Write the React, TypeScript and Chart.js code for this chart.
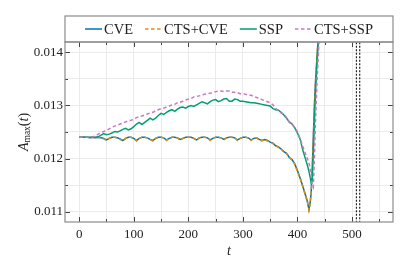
import { useEffect, useRef } from "react";
import { Chart, registerables } from "chart.js";

Chart.register(...registerables);

// time samples
const T = [
  0, 5, 10, 15, 20, 25, 30, 35, 40, 45, 50, 55, 60, 65, 70, 75, 80, 85, 90, 95,
  100, 105, 110, 115, 120, 125, 130, 135, 140, 145, 150, 155, 160, 165, 170, 175, 180, 185, 190, 195,
  200, 205, 210, 215, 220, 225, 230, 235, 240, 245, 250, 255, 260, 265, 270, 275, 280, 285, 290, 295,
  300, 305, 310, 315, 320, 325, 330, 335, 340, 345, 350, 355, 360, 365, 370, 375, 380, 385, 390, 395,
  400, 405, 410, 415, 418, 421, 423, 425, 427, 429, 431, 433, 436, 440, 444,
];

const CVE = [
  0.01240, 0.01240, 0.01240, 0.01240, 0.01239, 0.01240, 0.01239, 0.01240, 0.01239, 0.01238,
  0.01235, 0.01238, 0.01240, 0.01240, 0.01239, 0.01237, 0.01234, 0.01238, 0.01240, 0.01240,
  0.01238, 0.01234, 0.01238, 0.01240, 0.01240, 0.01239, 0.01236, 0.01234, 0.01238, 0.01240,
  0.01240, 0.01239, 0.01235, 0.01238, 0.01240, 0.01240, 0.01239, 0.01236, 0.01238, 0.01240,
  0.01240, 0.01240, 0.01238, 0.01235, 0.01239, 0.01240, 0.01240, 0.01239, 0.01235, 0.01238,
  0.01240, 0.01240, 0.01239, 0.01236, 0.01239, 0.01240, 0.01240, 0.01239, 0.01235, 0.01238,
  0.01240, 0.01240, 0.01239, 0.01235, 0.01238, 0.01239, 0.01236, 0.01234, 0.01236, 0.01234,
  0.01231, 0.01229, 0.01224, 0.01222, 0.01218, 0.01213, 0.01210, 0.01202, 0.01198, 0.01190,
  0.01177, 0.01163, 0.01147, 0.01130, 0.01120, 0.01104, 0.01115, 0.01135, 0.01180, 0.01240,
  0.01300, 0.01345, 0.01395, 0.01460, 0.01530,
];

const CTS_CVE = [
  0.01240, 0.01240, 0.01240, 0.01240, 0.01239, 0.01240, 0.01239, 0.01240, 0.01239, 0.01237,
  0.01234, 0.01238, 0.01240, 0.01240, 0.01239, 0.01236, 0.01233, 0.01238, 0.01240, 0.01240,
  0.01238, 0.01233, 0.01238, 0.01240, 0.01240, 0.01239, 0.01236, 0.01233, 0.01238, 0.01240,
  0.01240, 0.01239, 0.01234, 0.01238, 0.01240, 0.01240, 0.01239, 0.01235, 0.01238, 0.01240,
  0.01240, 0.01240, 0.01238, 0.01234, 0.01239, 0.01240, 0.01240, 0.01239, 0.01234, 0.01238,
  0.01240, 0.01240, 0.01239, 0.01235, 0.01239, 0.01240, 0.01240, 0.01239, 0.01234, 0.01238,
  0.01240, 0.01240, 0.01239, 0.01234, 0.01238, 0.01239, 0.01235, 0.01233, 0.01236, 0.01233,
  0.01231, 0.01228, 0.01224, 0.01221, 0.01218, 0.01212, 0.01209, 0.01202, 0.01197, 0.01189,
  0.01176, 0.01162, 0.01146, 0.01129, 0.01119, 0.01103, 0.01114, 0.01134, 0.01178, 0.01238,
  0.01298, 0.01344, 0.01394, 0.01460, 0.01530,
];

const SSP = [
  0.01240, 0.01240, 0.01240, 0.01240, 0.01240, 0.01241, 0.01240, 0.01241, 0.01244, 0.01247,
  0.01245, 0.01246, 0.01248, 0.01251, 0.01250, 0.01252, 0.01255, 0.01257, 0.01254, 0.01256,
  0.01260, 0.01265, 0.01268, 0.01264, 0.01268, 0.01272, 0.01276, 0.01273, 0.01276, 0.01281,
  0.01285, 0.01283, 0.01287, 0.01290, 0.01292, 0.01289, 0.01293, 0.01296, 0.01297, 0.01295,
  0.01298, 0.01300, 0.01298, 0.01301, 0.01304, 0.01307, 0.01305, 0.01303, 0.01307, 0.01310,
  0.01311, 0.01307, 0.01309, 0.01312, 0.01313, 0.01308, 0.01308, 0.01312, 0.01311, 0.01308,
  0.01308, 0.01307, 0.01306, 0.01305, 0.01305, 0.01304, 0.01303, 0.01302, 0.01301, 0.01300,
  0.01299, 0.01294, 0.01292, 0.01291, 0.01287, 0.01282, 0.01276, 0.01269, 0.01265, 0.01258,
  0.01248, 0.01236, 0.01215, 0.01198, 0.01188, 0.01176, 0.01166, 0.01155, 0.01158, 0.01210,
  0.01270, 0.01325, 0.01385, 0.01450, 0.01525,
];

const CTS_SSP = [
  0.01240, 0.01240, 0.01240, 0.01240, 0.01240, 0.01241, 0.01243, 0.01246, 0.01249, 0.01251,
  0.01253, 0.01256, 0.01259, 0.01261, 0.01263, 0.01265, 0.01267, 0.01269, 0.01271, 0.01272,
  0.01274, 0.01277, 0.01279, 0.01280, 0.01282, 0.01284, 0.01286, 0.01287, 0.01290, 0.01292,
  0.01294, 0.01295, 0.01297, 0.01299, 0.01301, 0.01302, 0.01305, 0.01306, 0.01308, 0.01310,
  0.01312, 0.01313, 0.01316, 0.01317, 0.01318, 0.01320, 0.01321, 0.01322, 0.01323, 0.01324,
  0.01326, 0.01327, 0.01327, 0.01326, 0.01327, 0.01327, 0.01325, 0.01325, 0.01324, 0.01322,
  0.01322, 0.01321, 0.01319, 0.01319, 0.01317, 0.01315, 0.01313, 0.01311, 0.01309, 0.01307,
  0.01305, 0.01301, 0.01295, 0.01289, 0.01286, 0.01284, 0.01277, 0.01268, 0.01264, 0.01259,
  0.01250, 0.01237, 0.01222, 0.01208, 0.01200, 0.01192, 0.01182, 0.01168, 0.01150, 0.01146,
  0.01200, 0.01270, 0.01350, 0.01430, 0.01510,
];

const SERIES_LABELS = ["CVE", "CTS+CVE", "SSP", "CTS+SSP"];
const SERIES_COLORS = ["#0173B2", "#DE8F05", "#029E73", "#CC78BC"];
const SERIES_DASHED = [false, true, false, true];

const X_MAJOR = [0, 100, 200, 300, 400, 500];
const X_MINOR = [50, 150, 250, 350, 450, 550];
const Y_MAJOR = [0.011, 0.012, 0.013, 0.014];
const Y_MINOR = [0.0115, 0.0125, 0.0135];
const X_RANGE = [-26, 575];
const Y_RANGE = [0.010806, 0.014194];
const V_LINES = [508, 514];

const SERIF = '"Liberation Serif", "Times New Roman", serif';

const isMajorY = (v: number) => Y_MAJOR.some((m) => Math.abs(m - v) < 1e-9);

const decorPlugin = {
  id: "decor",
  afterDraw(chart: any) {
    const { ctx, chartArea } = chart;
    const { left, right, top, bottom } = chartArea;
    const xs = chart.scales.x;
    const ys = chart.scales.y;
    ctx.save();

    // inward tick marks on all four sides
    ctx.strokeStyle = "#444";
    ctx.lineWidth = 1;
    ctx.beginPath();
    xs.ticks.forEach((t: any) => {
      const px = Math.round(xs.getPixelForValue(t.value)) + 0.5;
      const len = X_MAJOR.includes(t.value) ? 5 : 3;
      ctx.moveTo(px, bottom);
      ctx.lineTo(px, bottom - len);
      ctx.moveTo(px, top);
      ctx.lineTo(px, top + len);
    });
    ys.ticks.forEach((t: any) => {
      const py = Math.round(ys.getPixelForValue(t.value)) + 0.5;
      const len = isMajorY(t.value) ? 5 : 3;
      ctx.moveTo(left, py);
      ctx.lineTo(left + len, py);
      ctx.moveTo(right, py);
      ctx.lineTo(right - len, py);
    });
    ctx.stroke();

    // frame
    ctx.strokeStyle = "#8c8c8c";
    ctx.lineWidth = 1.2;
    ctx.strokeRect(left, top, right - left, bottom - top);

    // legend box
    const boxTop = top - 26;
    ctx.strokeRect(left, boxTop, right - left, 26);

    const items = chart.data.datasets
      .map((d: any, i: number) => ({ d, i }))
      .filter((o: any) => o.d.label);
    ctx.font = `14.5px ${SERIF}`;
    const sample = 17;
    const gapText = 2;
    const gapItem = 12;
    const widths = items.map((o: any) => ctx.measureText(o.d.label).width);
    const total =
      widths.reduce((a: number, w: number) => a + w + sample + gapText, 0) +
      gapItem * (items.length - 1);
    let x = (left + right) / 2 - total / 2;
    const cy = boxTop + 13;
    ctx.textBaseline = "middle";
    ctx.textAlign = "left";
    items.forEach((o: any, k: number) => {
      ctx.strokeStyle = o.d.borderColor;
      ctx.lineWidth = 1.5;
      ctx.setLineDash(o.d.borderDash || []);
      ctx.beginPath();
      ctx.moveTo(x, cy);
      ctx.lineTo(x + sample, cy);
      ctx.stroke();
      ctx.setLineDash([]);
      ctx.fillStyle = "#222";
      ctx.fillText(o.d.label, x + sample + gapText, cy + 1);
      x += sample + gapText + widths[k] + gapItem;
    });

    // x title
    ctx.fillStyle = "#222";
    ctx.font = `italic 14px ${SERIF}`;
    ctx.textAlign = "center";
    ctx.fillText("t", (left + right) / 2, 251);

    // y title: A_max(t)
    ctx.translate(24, (top + bottom) / 2);
    ctx.rotate(-Math.PI / 2);
    const parts = [
      { s: "A", f: `italic 14px ${SERIF}`, dy: 0 },
      { s: "max", f: `9.5px ${SERIF}`, dy: 3 },
      { s: "(", f: `14px ${SERIF}`, dy: 0 },
      { s: "t", f: `italic 14px ${SERIF}`, dy: 0 },
      { s: ")", f: `14px ${SERIF}`, dy: 0 },
    ];
    let tw = 0;
    parts.forEach((p) => {
      ctx.font = p.f;
      tw += ctx.measureText(p.s).width;
    });
    let px = -tw / 2;
    ctx.textAlign = "left";
    parts.forEach((p) => {
      ctx.font = p.f;
      ctx.fillText(p.s, px, p.dy);
      px += ctx.measureText(p.s).width;
    });

    ctx.restore();
  },
};

export default function App() {
  const ref = useRef<HTMLCanvasElement | null>(null);
  useEffect(() => {
    if (!ref.current) return;
    const series = [CVE, CTS_CVE, SSP, CTS_SSP];
    const order = [3, 2, 1, 0];
    const datasets: any[] = series.map((vals, i) => ({
      label: SERIES_LABELS[i],
      data: T.map((t, j) => ({ x: t, y: vals[j] })),
      borderColor: SERIES_COLORS[i],
      backgroundColor: SERIES_COLORS[i],
      borderWidth: 1.5,
      borderDash: SERIES_DASHED[i] ? [3.5, 2.5] : [],
      pointRadius: 0,
      tension: 0,
      order: order[i],
    }));
    V_LINES.forEach((v) => {
      datasets.push({
        label: "",
        data: [
          { x: v, y: Y_RANGE[0] - 0.001 },
          { x: v, y: Y_RANGE[1] + 0.001 },
        ],
        borderColor: "#222",
        borderWidth: 1.2,
        borderDash: [2, 1.5],
        pointRadius: 0,
        order: 5,
      });
    });
    const chart = new Chart(ref.current, {
      type: "line",
      data: { datasets },
      plugins: [decorPlugin],
      options: {
        animation: false,
        responsive: false,
        devicePixelRatio: 1,
        layout: { padding: { top: 42, right: 18, left: 0, bottom: 0 } },
        plugins: { legend: { display: false }, tooltip: { enabled: false } },
        scales: {
          x: {
            type: "linear",
            min: X_RANGE[0],
            max: X_RANGE[1],
            afterFit: (s: any) => {
              s.height = 52;
            },
            afterBuildTicks: (s: any) => {
              s.ticks = [...X_MAJOR, ...X_MINOR]
                .sort((a, b) => a - b)
                .map((v) => ({ value: v }));
            },
            grid: { color: "#ebebeb", lineWidth: 1, drawTicks: false },
            border: { display: false },
            ticks: {
              autoSkip: false,
              maxRotation: 0,
              padding: 5,
              color: "#222",
              font: { family: SERIF, size: 13 },
              callback: (v: any) => (X_MAJOR.includes(v) ? String(v) : ""),
            },
          },
          y: {
            type: "linear",
            min: Y_RANGE[0],
            max: Y_RANGE[1],
            afterFit: (s: any) => {
              s.width = 65;
            },
            afterBuildTicks: (s: any) => {
              s.ticks = [...Y_MAJOR, ...Y_MINOR]
                .sort((a, b) => a - b)
                .map((v) => ({ value: v }));
            },
            grid: { color: "#ebebeb", lineWidth: 1, drawTicks: false },
            border: { display: false },
            ticks: {
              autoSkip: false,
              padding: 2,
              color: "#222",
              font: { family: SERIF, size: 13 },
              callback: (v: any) => (isMajorY(v) ? Number(v).toFixed(3) : ""),
            },
          },
        },
      },
    });
    return () => chart.destroy();
  }, []);
  return (
    <div style={{ position: "fixed", left: 0, top: 0, width: 411, height: 274, background: "#fff" }}>
      <canvas ref={ref} width={411} height={274} />
    </div>
  );
}
